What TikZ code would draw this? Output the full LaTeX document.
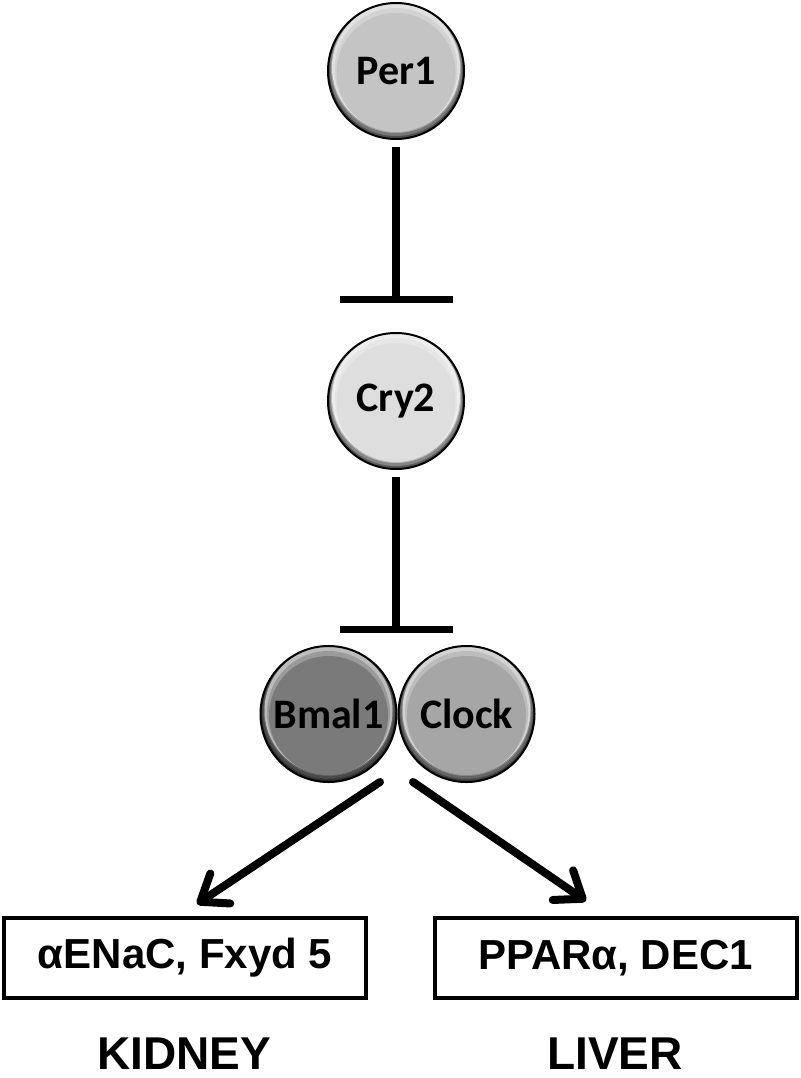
\documentclass[tikz,border=0pt]{standalone}
\usepackage{fontspec}
\setmainfont{Liberation Sans}
\newfontfamily\calibri{Carlito}
\usetikzlibrary{arrows.meta}
\definecolor{per1c}{RGB}{196,196,196}
\definecolor{cry2c}{RGB}{222,222,222}
\definecolor{bmalc}{RGB}{122,122,122}
\definecolor{clockc}{RGB}{166,166,166}
% layered "button" background at a named coordinate #1 with base colour #2
\newcommand\btnbg[2]{%
  \fill[#2!40!black] (#1) circle (68);
  \fill[#2!60!black] ([yshift=1.5pt]#1) circle (66.5);
  \fill[#2!82!black] ([yshift=3pt]#1) circle (65);
  \fill[#2!50!white] ([yshift=3.5pt]#1) circle (64);
  \fill[#2!75!white] ([yshift=1.5pt]#1) circle (61.5);
  \fill[#2] ([yshift=-1.5pt]#1) circle (59.5);
}
\tikzset{
  ball/.style={circle, minimum size=136pt, inner sep=0pt, draw=black, line width=2pt,
    font=\calibri\bfseries\fontsize{42}{50}\selectfont},
  inh/.style={line width=8pt, shorten <=7pt, -{Bar[width=113pt, line width=7.5pt]}},
  act/.style={line width=8pt, line cap=round, -{Straight Barb[length=24pt, width=36pt, round]}},
  genebox/.style={draw=black, line width=4pt, minimum width=362pt, minimum height=80pt, inner sep=0pt,
    font=\bfseries\fontsize{42}{50}\selectfont},
  organ/.style={inner sep=0pt, anchor=base, font=\bfseries\fontsize{46}{54}\selectfont}
}
\begin{document}
\begin{tikzpicture}[x=1pt,y=-1pt]
\useasboundingbox (0,0) rectangle (800,1078);
\coordinate (cp) at (396,71);
\coordinate (cc) at (396,401);
\coordinate (cb) at (328.5,714);
\coordinate (ck) at (466.5,714);
\btnbg{cp}{per1c}
\btnbg{cc}{cry2c}
\btnbg{cb}{bmalc}
\btnbg{ck}{clockc}
\node[ball] (per1) at (cp) {Per1};
\node[ball] (cry2) at (cc) {Cry2};
\node[ball] (bmal1) at (cb) {Bmal1};
\node[ball] (clock) at (ck) {Clock};
\coordinate (b1) at (396,303);
\coordinate (b2) at (396,633);
\draw[inh] (per1) -- (b1);
\draw[inh] (cry2) -- (b2);
\node[genebox] (kid) at (185,958) {αENaC, Fxyd 5};
\node[genebox] (liv) at (615.5,958) {PPARα, DEC1};
\coordinate (s1) at (380,782);
\coordinate (s2) at (413,782);
\coordinate (e1) at (197,904);
\coordinate (e2) at (586,901);
\draw[act] (s1) -- (e1);
\draw[act] (s2) -- (e2);
\node[organ] (kidney) at (184,1069) {KIDNEY};
\node[organ] (liver) at (615,1069) {LIVER};
\end{tikzpicture}
\end{document}
